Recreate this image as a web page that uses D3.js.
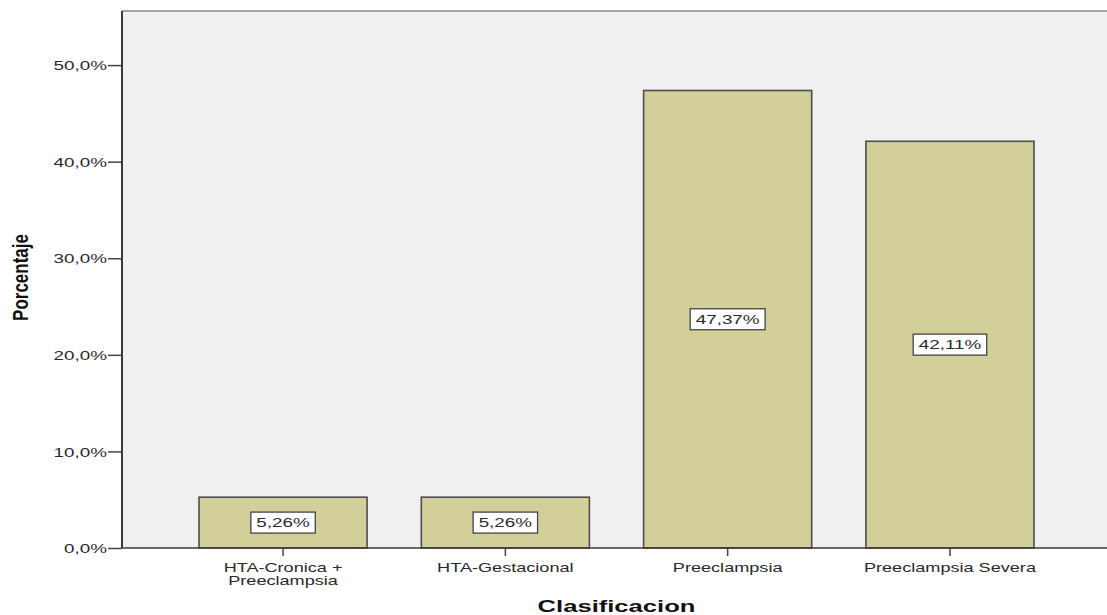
<!DOCTYPE html>
<html>
<head>
<meta charset="utf-8">
<script src="https://cdn.jsdelivr.net/npm/d3@7"></script>
<style>
  html, body { margin: 0; padding: 0; background: #fff; }
  svg { display: block; font-family: "Liberation Sans", Arial, sans-serif; }
</style>
</head>
<body>
<svg id="chart" width="1107" height="615"></svg>
<script>
// Clasificacion de los trastornos hipertensivos (porcentaje de casos)
const categories = ["HTA-Cronica + Preeclampsia", "HTA-Gestacional", "Preeclampsia", "Preeclampsia Severa"];
const categoryLines = [["HTA-Cronica +", "Preeclampsia"], ["HTA-Gestacional"], ["Preeclampsia"], ["Preeclampsia Severa"]];
const percentages = [5.26, 5.26, 47.37, 42.11];
const yTicks = [0, 10, 20, 30, 40, 50];
const yMax = 55.6;
const xTitle = "Clasificacion";
const yTitle = "Porcentaje";

const plot = { left: 122, top: 11, right: 1111, bottom: 548 };
const stretch = 1.45;            // wide glyph rendering used for all labels
const svg = d3.select("#chart");

const x = d3.scaleBand()
  .domain(categories)
  .range([plot.left, plot.right])
  .paddingInner(0.244)
  .paddingOuter(0.3465);

const y = d3.scaleLinear()
  .domain([0, yMax])
  .range([plot.bottom, plot.top]);

const fmtTick = d => d.toFixed(1).replace(".", ",") + "%";
const fmtVal = d => d.toFixed(2).replace(".", ",") + "%";

// plot background
svg.append("rect")
  .attr("x", plot.left).attr("y", plot.top)
  .attr("width", plot.right - plot.left).attr("height", plot.bottom - plot.top)
  .attr("fill", "#f0f0f0");

// top frame edge
svg.append("line")
  .attr("x1", plot.left).attr("x2", plot.right)
  .attr("y1", plot.top).attr("y2", plot.top)
  .attr("stroke", "#a3a3a3").attr("stroke-width", 2);

// bars
svg.append("g").selectAll("rect")
  .data(percentages)
  .join("rect")
  .attr("x", (d, i) => x(categories[i]))
  .attr("y", d => y(d))
  .attr("width", x.bandwidth())
  .attr("height", d => y(0) - y(d))
  .attr("fill", "#d3cf98")
  .attr("stroke", "#4d4d4d")
  .attr("stroke-width", 1.6);

// y axis
const yAxis = svg.append("g")
  .attr("transform", `translate(${plot.left},0)`)
  .call(d3.axisLeft(y).tickValues(yTicks).tickFormat(fmtTick).tickSize(14).tickSizeOuter(0));
yAxis.select(".domain").remove();
yAxis.selectAll(".tick line").attr("stroke", "#444").attr("stroke-width", 1.5);
yAxis.selectAll(".tick text")
  .attr("x", -15 / stretch)
  .attr("dy", "0.36em")
  .attr("transform", `scale(${stretch},1)`)
  .attr("fill", "#2a2a2a")
  .style("font-size", "13px")
  .style("font-family", "'Liberation Sans', Arial, sans-serif");

// left axis line
svg.append("line")
  .attr("x1", plot.left).attr("x2", plot.left)
  .attr("y1", plot.top).attr("y2", plot.bottom)
  .attr("stroke", "#3a3a3a").attr("stroke-width", 2);

// x axis
const xAxis = svg.append("g")
  .attr("transform", `translate(0,${plot.bottom})`)
  .call(d3.axisBottom(x).tickSize(8).tickSizeOuter(0).tickFormat(""));
xAxis.select(".domain").remove();
xAxis.selectAll(".tick line").attr("stroke", "#444").attr("stroke-width", 1.5);

// baseline
svg.append("line")
  .attr("x1", plot.left).attr("x2", plot.right)
  .attr("y1", plot.bottom).attr("y2", plot.bottom)
  .attr("stroke", "#3a3a3a").attr("stroke-width", 1.6);

// category labels (possibly two lines)
const catG = svg.append("g");
categories.forEach((c, i) => {
  const cx = x(c) + x.bandwidth() / 2;
  const t = catG.append("text")
    .attr("transform", `translate(${cx},${plot.bottom + 23.5}) scale(${stretch},1)`)
    .attr("text-anchor", "middle")
    .attr("fill", "#2a2a2a")
    .style("font-size", "12.5px");
  categoryLines[i].forEach((line, k) => {
    t.append("tspan").attr("x", 0).attr("dy", k === 0 ? 0 : 13.5).text(line);
  });
});

// value labels in white boxes at mid-bar
const valG = svg.append("g");
percentages.forEach((v, i) => {
  const cx = x(categories[i]) + x.bandwidth() / 2;
  const cy = (y(v) + y(0)) / 2;
  const g = valG.append("g").attr("transform", `translate(${cx},${cy})`);
  const box = g.append("rect");
  const t = g.append("text")
    .attr("transform", `scale(${stretch},1)`)
    .attr("text-anchor", "middle")
    .attr("dy", "0.36em")
    .attr("fill", "#2a2a2a")
    .style("font-size", "13px")
    .text(fmtVal(v));
  const w = t.node().getComputedTextLength() * stretch + 11;
  const h = 21;
  box.attr("x", -w / 2).attr("y", -h / 2).attr("width", w).attr("height", h)
    .attr("fill", "#fff").attr("stroke", "#444").attr("stroke-width", 1.3);
});

// axis titles
svg.append("text")
  .attr("transform", `translate(${(plot.left + plot.right) / 2},${612}) scale(1.6,1)`)
  .attr("text-anchor", "middle")
  .attr("fill", "#111")
  .style("font-size", "16px")
  .style("font-weight", "bold")
  .text(xTitle);

svg.append("text")
  .attr("transform", `translate(28,${(plot.top + plot.bottom) / 2 - 2}) scale(1.3,1) rotate(-90)`)
  .attr("text-anchor", "middle")
  .attr("fill", "#111")
  .style("font-size", "17px")
  .style("font-weight", "bold")
  .text(yTitle);
</script>
</body>
</html>
